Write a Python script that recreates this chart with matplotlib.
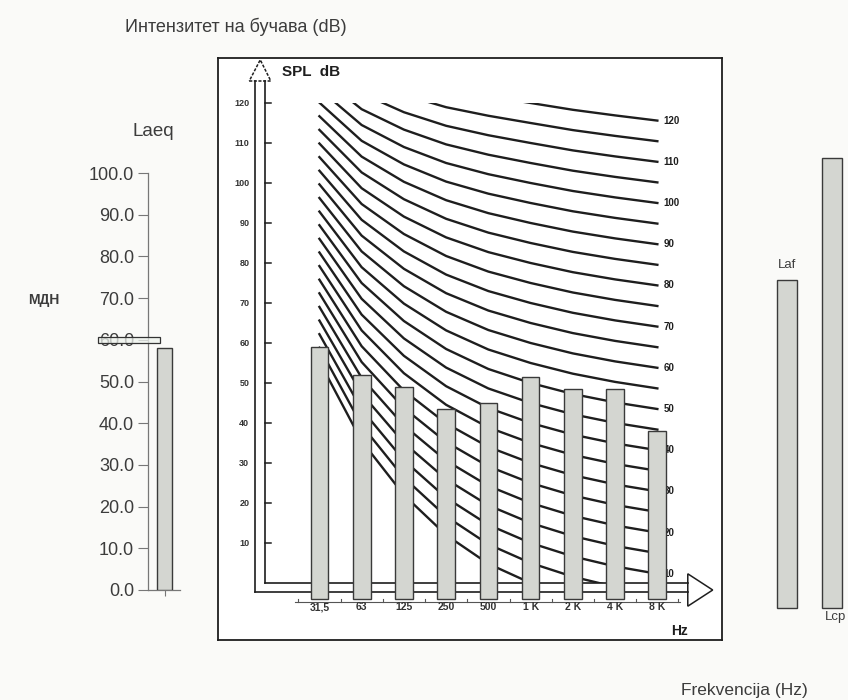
import matplotlib
matplotlib.use("Agg")
import matplotlib.pyplot as plt
from matplotlib.patches import Rectangle, Polygon

plt.rcParams['font.family'] = ['Liberation Sans', 'DejaVu Sans']

# --- data ---------------------------------------------------------------
laeq_value = 58.0          # Laeq bar (dB)
mdn_limit = 60.0           # МДН limit line
laeq_ticks = [0, 10, 20, 30, 40, 50, 60, 70, 80, 90, 100]

freq_labels = ['31,5', '63', '125', '250', '500', '1 K', '2 K', '4 K', '8 K']
octave_levels = [59, 52, 49, 43.5, 45, 51.5, 48.5, 48.5, 38]
spl_ticks = [10, 20, 30, 40, 50, 60, 70, 80, 90, 100, 110, 120]

# noise rating curves  L = a + b * NR  (octave bands 31.5 Hz .. 8 kHz)
nr_a = [55.4, 35.5, 22.0, 12.0, 4.8, 0.0, -3.5, -6.1, -8.0]
nr_b = [0.681, 0.790, 0.870, 0.930, 0.974, 1.000, 1.015, 1.025, 1.030]
nr_values = [0, 5, 10, 15, 20, 25, 30, 35, 40, 45, 50, 55, 60, 65, 70, 75,
             80, 85, 90, 95, 100, 105, 110, 115, 120]
nr_labels = [10, 20, 30, 40, 50, 60, 70, 80, 90, 100, 110, 120]

side_labels = ['Laf', 'Lcp']
side_values = [78.7, 108.0]

W, H = 848, 700
fig = plt.figure(figsize=(W / 100, H / 100), dpi=100)
fig.patch.set_facecolor('#fafaf8')


def box(x0, y0, x1, y1):
    # pixel box (top-left origin) -> figure fraction rect
    return [x0 / W, 1 - y1 / H, (x1 - x0) / W, (y1 - y0) / H]


def ftxt(x, y, s, **kw):
    fig.text(x / W, 1 - y / H, s, **kw)


bar_face = '#d4d6d1'
bar_edge = '#3a3a3a'
ink = '#1e1e1e'
grey_txt = '#3c3c3c'

# --- left: Laeq ---------------------------------------------------------
axl = fig.add_axes(box(148, 173, 178, 590))
axl.set_facecolor('none')
axl.bar([0], [laeq_value], width=0.5, color=bar_face, edgecolor=bar_edge,
        linewidth=1.0, zorder=3)
axl.set_xlim(-0.55, 0.45)
axl.set_ylim(0, 100)
axl.set_yticks(laeq_ticks)
axl.set_yticklabels(['%.1f' % v for v in laeq_ticks], fontsize=13, color=grey_txt)
axl.set_xticks([0])
axl.set_xticklabels([''])
axl.tick_params(axis='y', length=7, width=0.8, color='#777', pad=3)
axl.tick_params(axis='x', length=4, width=0.8, color='#777')
for s in ['top', 'right']:
    axl.spines[s].set_visible(False)
for s in ['left', 'bottom']:
    axl.spines[s].set_color('#777')
    axl.spines[s].set_linewidth(0.9)
axl.spines['bottom'].set_bounds(-0.55, 0.5)
axl.add_patch(Rectangle((-2.22, mdn_limit - 0.7), 2.07, 1.4,
                        facecolor=(0.93, 0.95, 0.93, 0.75), edgecolor='#333',
                        linewidth=0.9, clip_on=False, zorder=6))

ftxt(153, 132, 'Laeq', fontsize=13.5, color=grey_txt, ha='center', va='center')
ftxt(44, 300, 'МДН', fontsize=10, fontweight='bold', color=grey_txt,
     ha='center', va='center')
ftxt(236, 27, 'Интензитет на бучава (dB)', fontsize=13, color=grey_txt,
     ha='center', va='center')

# --- middle: octave spectrum with NR curves -----------------------------
axm = fig.add_axes(box(218, 58, 722, 640))
axm.set_facecolor('white')
axm.set_xlim(-2.40, 9.53)
axm.set_ylim(-14.25, 131.25)
axm.set_xticks([])
axm.set_yticks([])
for s in axm.spines.values():
    s.set_color(ink)
    s.set_linewidth(1.3)

xs = list(range(len(freq_labels)))
clip = Rectangle((-0.1, 0), 9.0, 120, transform=axm.transData)
for nr in nr_values:
    lev = [a + b * nr for a, b in zip(nr_a, nr_b)]
    ln, = axm.plot(xs, lev, color=ink, linewidth=1.7, zorder=2)
    ln.set_clip_path(clip)

for nr in nr_labels:
    axm.text(8.15, nr_a[-1] + nr_b[-1] * nr, str(nr), fontsize=7,
             fontweight='bold', color=ink, va='center', ha='left')

bar_bottom = -4.0
axm.bar(xs, [v - bar_bottom for v in octave_levels], bottom=bar_bottom,
        width=0.42, color=bar_face, edgecolor=bar_edge, linewidth=1.0, zorder=4)

# hollow vertical arrow (SPL axis)
x_out, x_in = -1.527, -1.29
axm.plot([x_out, x_out], [-2.25, 125.5], color=ink, lw=1.2, zorder=3)
axm.plot([x_in, x_in], [0, 125.5], color=ink, lw=1.2, zorder=3)
axm.add_patch(Polygon([[-1.66, 125.5], [-1.15, 125.5], [-1.40, 130.8]],
                      closed=True, fill=False, edgecolor=ink, lw=1.1,
                      linestyle=(0, (2, 1)), zorder=3))
for t in spl_ticks:
    axm.plot([x_in, x_in + 0.15], [t, t], color=ink, lw=1.1, zorder=3)
    axm.text(-1.66, t, str(t), fontsize=6.5, fontweight='bold', color='#333',
             ha='right', va='center')

# hollow horizontal arrow (frequency axis)
axm.plot([x_in, 8.72], [0, 0], color=ink, lw=1.2, zorder=3)
axm.plot([x_out, 8.72], [-2.25, -2.25], color=ink, lw=1.2, zorder=3)
axm.add_patch(Polygon([[8.72, 2.3], [8.72, -5.8], [9.31, -1.75]],
                      closed=True, fill=False, edgecolor=ink, lw=1.1, zorder=3))

# frequency tick row
axm.plot([-0.58, 8.53], [-4.75, -4.75], color='#555', lw=0.8, zorder=3)
for i in range(len(freq_labels) + 1):
    axm.plot([i - 0.5, i - 0.5], [-4.75, -3.9], color='#555', lw=0.8, zorder=3)
for i, lab in enumerate(freq_labels):
    axm.text(i, -6.0, lab, fontsize=7.5, fontweight='bold', color='#333',
             ha='center', va='center', zorder=5)

ftxt(282, 72, 'SPL  dB', fontsize=11, fontweight='bold', color=ink,
     ha='left', va='center')
ftxt(679, 631, 'Hz', fontsize=10, fontweight='bold', color=ink,
     ha='center', va='center')

# --- right: Laf / Lcp ---------------------------------------------------
axr = fig.add_axes(box(770, 150, 848, 608))
axr.set_xlim(-0.378, 1.356)
axr.set_ylim(0, 109.8)
axr.axis('off')
axr.bar([0, 1], side_values, width=0.444, color=bar_face, edgecolor=bar_edge,
        linewidth=1.0, clip_on=False)
axr.text(0, side_values[0] + 3.6, side_labels[0], fontsize=9.5, color=grey_txt,
         ha='center', va='center')
axr.text(1.08, -2.2, side_labels[1], fontsize=9.5, color=grey_txt,
         ha='center', va='center', clip_on=False)

ftxt(744, 690, 'Frekvencija (Hz)', fontsize=12.5, color=grey_txt,
     ha='center', va='center')

fig.savefig('out.png', dpi=100, facecolor=fig.get_facecolor())
